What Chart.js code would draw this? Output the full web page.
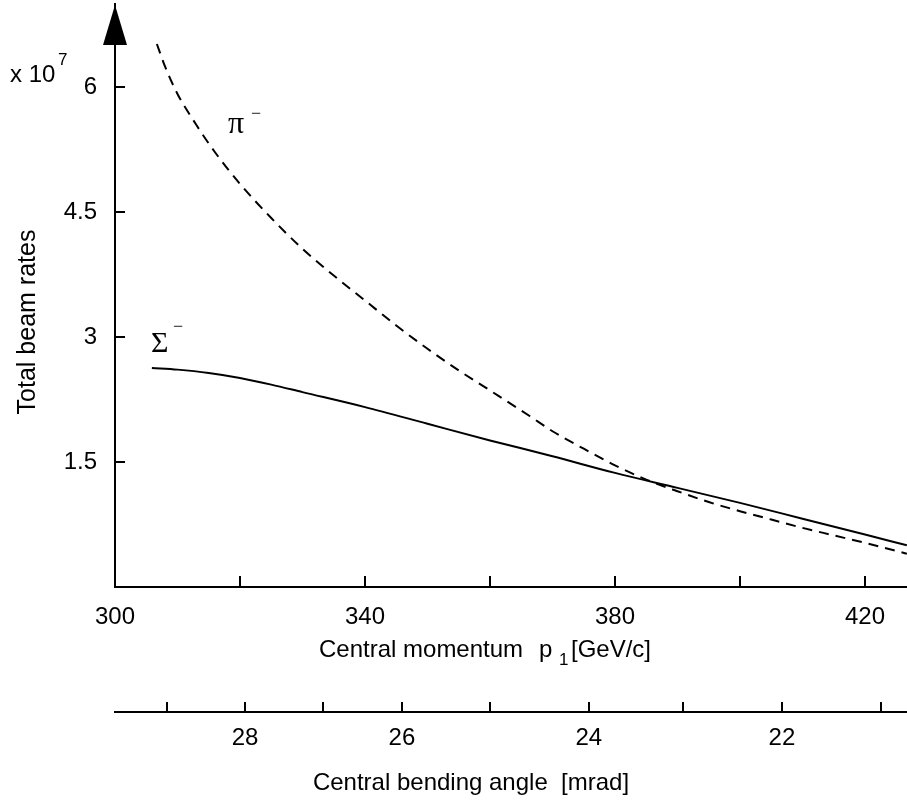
<!DOCTYPE html>
<html>
<head>
<meta charset="utf-8">
<script src="https://cdn.jsdelivr.net/npm/chart.js@4.4.1/dist/chart.umd.min.js"></script>
<style>
  html, body { margin: 0; padding: 0; background: #fff; }
  #wrap { width: 907px; height: 802px; }
</style>
</head>
<body>
<div id="wrap"><canvas id="chart" width="907" height="802"></canvas></div>
<script>
// --- data ---
const momentumTicks = [300, 320, 340, 360, 380, 400, 420];
const labeledMomentum = [300, 340, 380, 420];
const rateTicks = [1.5, 3, 4.5, 6];

// bending angle axis: angle value and the momentum it sits under
const angleTicks = [29, 28, 27, 26, 25, 24, 23, 22, 21];
const angleTickMomentum = [308.3, 320.8, 333.3, 345.9, 360.0, 375.8, 390.9, 406.7, 422.6];
const labeledAngles = [28, 26, 24, 22];

// Sigma- (solid)
const sigmaMomentum = [305.9, 310, 315, 320, 325, 330, 340, 350, 360, 370, 380, 390, 400, 410, 420, 426.7];
const sigmaRate     = [2.63, 2.61, 2.57, 2.51, 2.43, 2.34, 2.16, 1.96, 1.76, 1.57, 1.37, 1.19, 1.01, 0.82, 0.63, 0.50];

// pi- (dashed)
const pionMomentum = [306.7, 308, 310, 313, 316, 320, 325, 330, 335, 340, 345, 350, 355, 360, 366.4, 370, 375, 380, 385, 390, 395, 400, 405, 410, 415, 420, 426.7];
const pionRate     = [6.52, 6.25, 5.92, 5.55, 5.22, 4.84, 4.43, 4.06, 3.74, 3.44, 3.14, 2.86, 2.60, 2.36, 2.05, 1.87, 1.66, 1.46, 1.29, 1.15, 1.02, 0.91, 0.81, 0.71, 0.62, 0.53, 0.40];

const X_MIN = 300, X_MAX = 426.72;
const SANS = '"Liberation Sans", Arial, Helvetica, sans-serif';
const SERIF = '"Liberation Serif", "Times New Roman", serif';

const toPoints = (xs, ys) => xs.map((x, i) => ({ x: x, y: ys[i] }));

// inward tick marks, axis arrow and free text
const decorPlugin = {
    id: 'decor',
    afterDraw(chart) {
        const ctx = chart.ctx;
        const { x, y, x2 } = chart.scales;
        const area = chart.chartArea;
        ctx.save();
        ctx.strokeStyle = '#000';
        ctx.fillStyle = '#000';
        ctx.lineWidth = 2;

        // y ticks (inside)
        rateTicks.forEach(v => {
            const py = Math.round(y.getPixelForValue(v));
            ctx.beginPath(); ctx.moveTo(area.left, py); ctx.lineTo(area.left + 10, py); ctx.stroke();
        });
        // x ticks (inside)
        momentumTicks.forEach(v => {
            if (v === X_MIN) return;
            const px = Math.round(x.getPixelForValue(v));
            ctx.beginPath(); ctx.moveTo(px, area.bottom); ctx.lineTo(px, area.bottom - 11); ctx.stroke();
        });
        // bending angle ticks
        angleTickMomentum.forEach(v => {
            const px = Math.round(x2.getPixelForValue(v));
            ctx.beginPath(); ctx.moveTo(px, x2.top); ctx.lineTo(px, x2.top - 10); ctx.stroke();
        });

        // arrow head on y axis
        ctx.beginPath();
        ctx.moveTo(area.left, 5);
        ctx.lineTo(area.left - 12, 45);
        ctx.lineTo(area.left + 12, 45);
        ctx.closePath();
        ctx.fill();

        // x 10^7
        ctx.textBaseline = 'alphabetic';
        ctx.textAlign = 'left';
        ctx.font = '24px ' + SANS;
        ctx.fillText('x 10', 10, 82);
        ctx.font = '17px ' + SANS;
        ctx.fillText('7', 58, 65);

        // curve labels
        ctx.font = '32px ' + SERIF;
        ctx.fillText('\u03C0', 228, 133);
        ctx.font = '30px ' + SERIF;
        ctx.fillText('\u03A3', 151, 352);
        ctx.font = '18px ' + SERIF;
        ctx.fillText('\u2212', 251, 119);
        ctx.fillText('\u2212', 173, 332);

        // axis titles
        ctx.font = '24px ' + SANS;
        ctx.fillText('Central momentum', 319, 657);
        ctx.fillText('p', 539, 657);
        ctx.fillText('[GeV/c]', 571, 657);
        ctx.font = '17px ' + SANS;
        ctx.fillText('1', 559, 665);

        ctx.font = '24px ' + SANS;
        ctx.textAlign = 'center';
        ctx.fillText('Central bending angle  [mrad]', 471, 790);

        ctx.translate(28, 322);
        ctx.rotate(-Math.PI / 2);
        ctx.textBaseline = 'middle';
        ctx.font = '25px ' + SANS;
        ctx.fillText('Total beam rates', 0, 0);
        ctx.restore();
    }
};

const tickFont = { family: SANS, size: 24 };

new Chart(document.getElementById('chart'), {
    type: 'line',
    data: {
        datasets: [
            {
                label: 'Sigma-',
                data: toPoints(sigmaMomentum, sigmaRate),
                borderColor: '#000', borderWidth: 2, pointRadius: 0,
                cubicInterpolationMode: 'monotone', fill: false
            },
            {
                label: 'pi-',
                data: toPoints(pionMomentum, pionRate),
                borderColor: '#000', borderWidth: 2, pointRadius: 0, borderDash: [10, 7],
                cubicInterpolationMode: 'monotone', fill: false
            }
        ]
    },
    options: {
        responsive: false,
        animation: false,
        layout: { padding: { top: 4, left: 0, right: 0, bottom: 0 } },
        plugins: { legend: { display: false }, tooltip: { enabled: false } },
        scales: {
            x: {
                type: 'linear', position: 'bottom', weight: 0,
                min: X_MIN, max: X_MAX,
                afterBuildTicks: s => { s.ticks = momentumTicks.map(v => ({ value: v })); },
                afterFit: s => { s.height = 125; s.paddingLeft = 0; s.paddingRight = 0; },
                grid: { display: false, drawTicks: false },
                border: { display: true, color: '#000', width: 2 },
                ticks: {
                    autoSkip: false, maxRotation: 0, padding: 16, color: '#000', font: tickFont,
                    callback: v => labeledMomentum.includes(v) ? String(v) : ''
                }
            },
            x2: {
                type: 'linear', position: 'bottom', weight: 1,
                min: X_MIN, max: X_MAX,
                afterBuildTicks: s => { s.ticks = angleTickMomentum.map(v => ({ value: v })); },
                afterFit: s => { s.height = 90; s.paddingLeft = 0; s.paddingRight = 0; },
                grid: { display: false, drawTicks: false },
                border: { display: true, color: '#000', width: 2 },
                ticks: {
                    autoSkip: false, maxRotation: 0, padding: 12, color: '#000', font: tickFont,
                    callback: (v, i) => labeledAngles.includes(angleTicks[i]) ? String(angleTicks[i]) : ''
                }
            },
            y: {
                type: 'linear', position: 'left',
                min: 0, max: 7,
                afterBuildTicks: s => { s.ticks = rateTicks.map(v => ({ value: v })); },
                afterFit: s => { s.width = 115; s.paddingTop = 0; s.paddingBottom = 0; },
                grid: { display: false, drawTicks: false },
                border: { display: true, color: '#000', width: 2 },
                ticks: { padding: 18, color: '#000', font: tickFont, callback: v => String(v) }
            }
        }
    },
    plugins: [decorPlugin]
});
</script>
</body>
</html>
